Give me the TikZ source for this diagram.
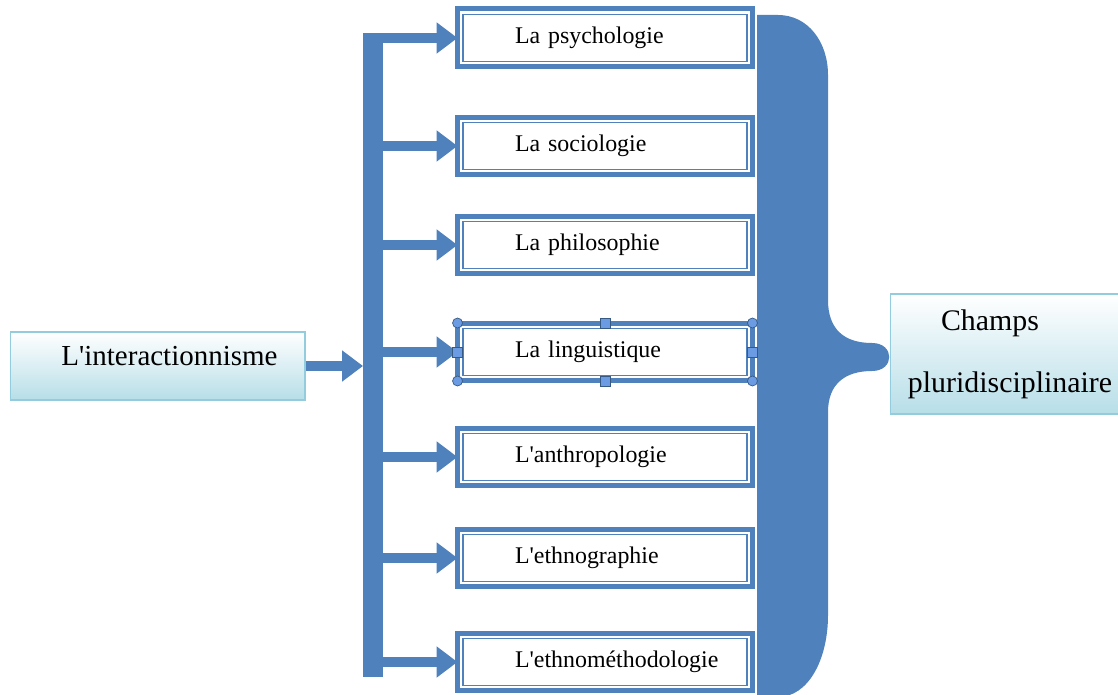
\documentclass[tikz,border=0pt]{standalone}
\usepackage{xcolor}
\usepackage{fontspec}
\setmainfont{Liberation Serif}[Ligatures=TeXOff]
\usepackage{tikz}
\usetikzlibrary{arrows.meta,positioning}
\definecolor{champBlue}{HTML}{4F81BD}
\definecolor{handleBlue}{HTML}{6A9BE3}
\definecolor{aquaLine}{HTML}{93CDDD}
\definecolor{aquaFill}{HTML}{B7DEE8}

\begin{document}
\begin{tikzpicture}[x=0.02cm,y=-0.02cm,
    discipline/.style={draw=champBlue,line width=0.1cm,outer sep=0pt,fill=white,minimum width=5.9cm,minimum height=1.16cm,
      text width=3.6cm,inner xsep=1.15cm,align=left,text height=9.4pt,text depth=3pt,font=\fontsize{13.6}{16.5}\selectfont},
    aquabox/.style={draw=aquaLine,line width=0.6pt,top color=white,bottom color=aquaFill,align=center},
    branch/.style={draw=champBlue,line width=0.2cm,-{Triangle[length=0.42cm,width=0.6cm]}},
    handle/.style={fill=handleBlue,draw=champBlue!70!black,line width=0.4pt}]
    \useasboundingbox (0,0) rectangle (1118,695);

    % the brace
    \fill[champBlue] (757,15) -- (778,15) .. controls (808,15) and (828,42) .. (828,75) -- (828,300)
      .. controls (828,330) and (845,343) .. (872,343) .. controls (895,343) and (895,371) .. (872,371)
      .. controls (845,371) and (828,384) .. (828,412) -- (828,615)
      .. controls (828,660) and (808,697) .. (778,697) -- (757,697) -- cycle;

    \node[aquabox,minimum width=5.9cm,minimum height=1.36cm,text height=11.4pt,text depth=12.5pt,
      font=\fontsize{16.5}{20}\selectfont] (src) at (157.5,366) {\hspace*{0.48cm}L'interactionnisme};
    \node[aquabox,minimum width=4.6cm,minimum height=2.4cm,font=\fontsize{17}{20.4}\selectfont] (champs) at (1005,354)
      {Champs\hspace*{0.6cm}\\[14.8pt]\hspace*{0.2cm}pluridisciplinaire};

    \node[discipline] (b1) at (605,38) {La psychologie};
    \node[discipline] (b2) at (605,146) {La sociologie};
    \node[discipline] (b3) at (605,245) {La philosophie};
    \node[discipline] (b4) at (605,352) {La linguistique};
    \node[discipline] (b5) at (605,457) {L'anthropologie};
    \node[discipline] (b6) at (605,558) {L'ethnographie};
    \node[discipline] (b7) at (605,662) {\mbox{L'ethnométhodologie}};

    \coordinate (trunk top) at (373,33);
    \coordinate (trunk bot) at (373,677);
    \draw[champBlue,line width=0.4cm] (trunk top) -- (trunk bot);
    \draw[branch,shorten >=0.2cm] (src.east) -- (src.east -| trunk top);
    \foreach \i in {1,...,7} {
      \draw[branch] (trunk top |- b\i.west) -- (b\i.west);
      \draw[champBlue,line width=0.9pt] ([xshift=0.11cm,yshift=-0.11cm]b\i.north west)
        rectangle ([xshift=-0.11cm,yshift=0.11cm]b\i.south east);
    }

    % selection handles
    \foreach \a in {north west,north east,south west,south east}
      \draw[handle] (b4.\a) circle (0.1cm);
    \foreach \a in {north,south,east,west}
      \draw[handle] ([xshift=-0.1cm,yshift=-0.1cm]b4.\a) rectangle ([xshift=0.1cm,yshift=0.1cm]b4.\a);
\end{tikzpicture}
\end{document}
